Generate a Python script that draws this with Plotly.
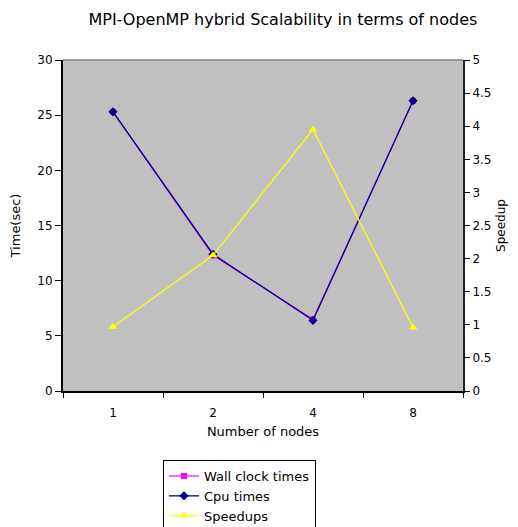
import plotly.graph_objects as go

nodes = ["1", "2", "4", "8"]
wall_clock = [25.3, 12.3, 6.5, 26.3]
cpu_times = [25.3, 12.4, 6.4, 26.3]
speedups = [0.97, 2.05, 3.95, 0.96]

FONT = "DejaVu Sans, Verdana, sans-serif"

fig = go.Figure()
fig.add_trace(go.Scatter(x=nodes, y=wall_clock, name="Wall clock times", mode="lines+markers",
                         line=dict(color="#FF00FF", width=1.2),
                         marker=dict(symbol="square", size=6, color="#FF00FF")))
fig.add_trace(go.Scatter(x=nodes, y=cpu_times, name="Cpu times", mode="lines+markers",
                         line=dict(color="#000080", width=1.3),
                         marker=dict(symbol="diamond", size=7, color="#000080")))
fig.add_trace(go.Scatter(x=nodes, y=speedups, name="Speedups", mode="lines+markers", yaxis="y2",
                         line=dict(color="#FFFF00", width=1.3),
                         marker=dict(symbol="triangle-up", size=8, color="#FFFF00")))

fig.update_layout(
    width=510, height=519,
    margin=dict(l=55, r=55, t=52, b=136, autoexpand=False),
    paper_bgcolor="white",
    plot_bgcolor="#C0C0C0",
    font=dict(family=FONT, size=11, color="black"),
    title=dict(text="MPI-OpenMP hybrid Scalability in terms of nodes", x=0.539, xanchor="center",
               y=0.978, yanchor="middle", font=dict(size=16, family=FONT)),
    xaxis=dict(type="category", range=[-0.5, 3.5], showgrid=False, zeroline=False,
               showline=True, linecolor="black", linewidth=2, mirror=False,
               ticks="outside", ticklen=5, tickcolor="black", tickwidth=1, tickson="boundaries",
               ticklabelstandoff=10,
               title=dict(text="Number of nodes", standoff=7, font=dict(size=13)),
               tickfont=dict(size=12)),
    yaxis=dict(range=[0, 30], dtick=5, showgrid=False, zeroline=False,
               showline=True, linecolor="black", linewidth=2,
               ticks="outside", ticklen=6, tickcolor="black",
               title=dict(text="Time(sec)", standoff=14, font=dict(size=13)),
               tickfont=dict(size=12)),
    yaxis2=dict(range=[0, 5], dtick=0.5, overlaying="y", side="right", showgrid=False, zeroline=False,
                showline=True, linecolor="#222222", linewidth=2,
                ticks="outside", ticklen=5, tickcolor="black",
                title=dict(text="Speedup", standoff=6, font=dict(size=12)),
                tickfont=dict(size=12)),
    legend=dict(x=0.25, y=-0.2085, xanchor="left", yanchor="top", bgcolor="white",
                bordercolor="black", borderwidth=1, font=dict(size=13), tracegroupgap=0,
                itemwidth=30),
    showlegend=True,
)
fig.add_shape(type="line", xref="paper", yref="paper", x0=0, x1=1, y0=1, y1=1,
              line=dict(color="#808080", width=1.5))

fig.write_html("out.html")
